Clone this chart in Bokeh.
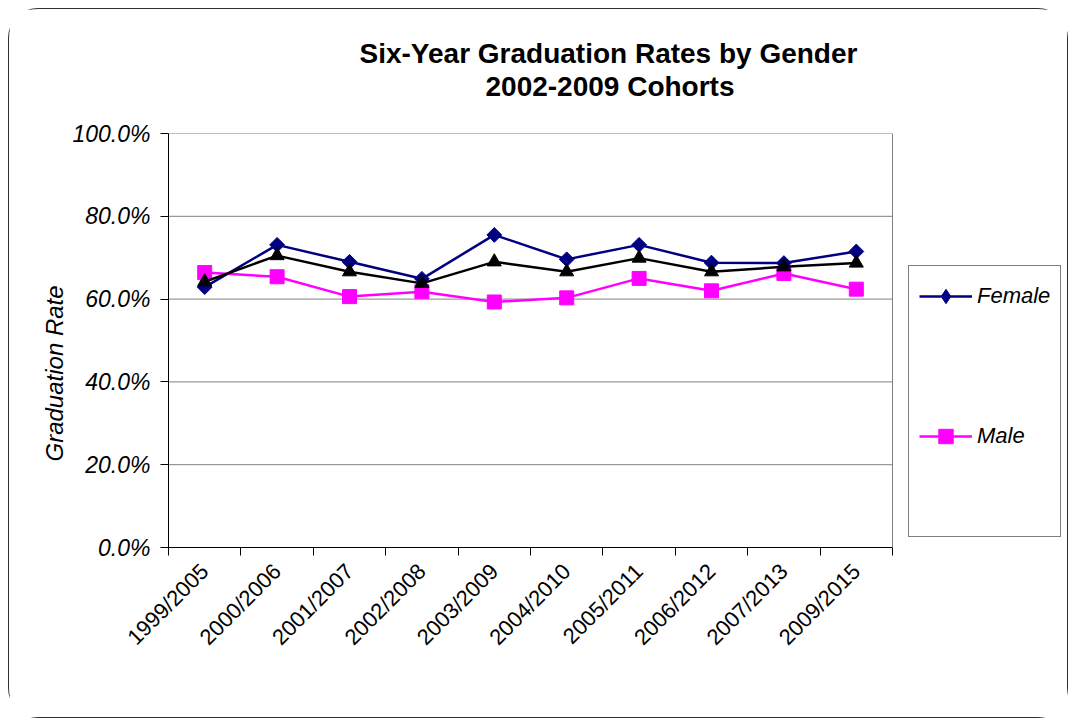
import math
from bokeh.plotting import figure
from bokeh.models import (Range1d, FixedTicker, PrintfTickFormatter, Legend,
                          LegendItem, Title, Span)
from bokeh.embed import file_html
from bokeh.resources import INLINE

# ---- data ----
cohorts = ["1999/2005", "2000/2006", "2001/2007", "2002/2008", "2003/2009",
           "2004/2010", "2005/2011", "2006/2012", "2007/2013", "2009/2015"]
female = [62.9, 73.1, 69.0, 64.9, 75.5, 69.6, 73.1, 68.8, 68.7, 71.5]
male = [66.4, 65.4, 60.6, 61.8, 59.3, 60.3, 65.0, 62.0, 66.2, 62.4]
total = [64.2, 70.5, 66.6, 63.8, 69.0, 66.6, 69.9, 66.6, 67.8, 68.7]
y_ticks = [0, 20, 40, 60, 80, 100]
title_line1 = "Six-Year Graduation Rates by Gender"
title_line2 = "2002-2009 Cohorts"
y_label = "Graduation Rate"

FONT = "Liberation Sans"

# ---- layout constants ----
W, H = 1060, 710
BL, BR, BT, BB = 159, 1, 124, 172
PLOT_W = 724                       # pixel width of the plotting area proper
n = len(cohorts)
frame_w = W - BL - BR
x_end = n * frame_w / PLOT_W       # frame extends right to hold the legend

x = [i + 0.5 for i in range(n)]
bounds = list(range(n + 1))

p = figure(width=W, height=H, output_backend="svg", toolbar_location=None,
           x_range=Range1d(0, x_end), y_range=Range1d(0, 100),
           min_border_left=BL, min_border_right=BR, min_border_top=BT,
           min_border_bottom=BB, background_fill_color="white",
           border_fill_color="white")
p.styles = {"border": "1px solid #303030", "border-radius": "30px",
            "margin": "8px"}

# titles: spacer first (closest to frame), then line 2, then line 1
spacer = Title(text=" ", text_font_size="1px", standoff=29)
t2 = Title(text=title_line2, align="left", offset=317, standoff=0,
           text_font=FONT, text_font_size="28px", text_font_style="bold",
           text_color="black")
t1 = Title(text=title_line1, align="left", offset=191, standoff=0,
           text_font=FONT, text_font_size="28px", text_font_style="bold",
           text_color="black")
p.add_layout(spacer, "above")
p.add_layout(t2, "above")
p.add_layout(t1, "above")

# axes
p.xaxis.bounds = (0, n)
p.xaxis.ticker = FixedTicker(ticks=x, minor_ticks=bounds)
p.xaxis.major_label_overrides = {xi: c for xi, c in zip(x, cohorts)}
p.xaxis.major_tick_line_color = None
p.xaxis.minor_tick_line_color = "black"
p.xaxis.minor_tick_out = 8
p.xaxis.minor_tick_in = 0
p.xaxis.major_label_orientation = math.pi / 4
p.xaxis.major_label_text_font = FONT
p.xaxis.major_label_text_font_size = "22px"
p.xaxis.major_label_text_color = "black"
p.xaxis.major_label_standoff = 12
p.xaxis.axis_line_color = "black"

p.yaxis.ticker = FixedTicker(ticks=y_ticks)
p.yaxis.formatter = PrintfTickFormatter(format="%.1f%%")
p.yaxis.major_tick_out = 8
p.yaxis.major_tick_in = 0
p.yaxis.major_tick_line_color = "black"
p.yaxis.minor_tick_line_color = None
p.yaxis.major_label_text_font = FONT
p.yaxis.major_label_text_font_size = "23px"
p.yaxis.major_label_text_font_style = "italic"
p.yaxis.major_label_text_color = "black"
p.yaxis.major_label_standoff = 10
p.yaxis.axis_line_color = "black"

yl = Title(text=y_label, align="left", offset=86, standoff=4,
           text_font=FONT, text_font_size="24px", text_font_style="italic",
           text_color="black")
p.add_layout(yl, "left")

# grid lines restricted to the plotting area, plus its right border
p.xgrid.visible = False
p.ygrid.visible = False
p.outline_line_color = None
p.segment(x0=[0] * len(y_ticks), x1=[n] * len(y_ticks), y0=y_ticks, y1=y_ticks,
          line_color="#808080", line_width=1, level="underlay")
p.add_layout(Span(location=n, dimension="height", line_color="#808080",
                  line_width=1))

# series
NAVY = "#000080"
MAG = "#FF00FF"
fl = p.line(x, female, line_color=NAVY, line_width=2.5)
# diamond key for the legend (hidden beneath the plotted markers)
f_key = p.scatter(x, female, marker="diamond", size=7, fill_color=NAVY,
                  line_color=NAVY)
fm = p.scatter(x, female, marker="square", angle=math.pi / 4, size=10.5,
               fill_color=NAVY, line_color=NAVY)
ml = p.line(x, male, line_color=MAG, line_width=2.5)
mm = p.scatter(x, male, marker="square", size=14, fill_color=MAG, line_color=MAG)
tl = p.line(x, total, line_color="black", line_width=2.5)
tm = p.scatter(x, total, marker="triangle", size=14, fill_color="black",
               line_color="black")

blank = p.scatter([], [], marker="square", size=1, fill_alpha=0, line_alpha=0)

legend = Legend(items=[
    LegendItem(label="Female", renderers=[fl, f_key]),
    LegendItem(label=" ", renderers=[blank]),
    LegendItem(label="Male", renderers=[ml, mm]),
    LegendItem(label=" ", renderers=[blank]),
], location=(PLOT_W + 16, 10), orientation="vertical",
    padding=10, spacing=30, margin=0,
    glyph_width=53, glyph_height=36, label_height=40, label_standoff=5,
    label_text_font=FONT, label_text_font_size="22px",
    label_text_font_style="italic", label_text_color="black",
    border_line_color="black", border_line_width=1,
    background_fill_color="white", background_fill_alpha=1.0)
p.add_layout(legend)

open("out.html", "w").write(file_html(p, INLINE))
